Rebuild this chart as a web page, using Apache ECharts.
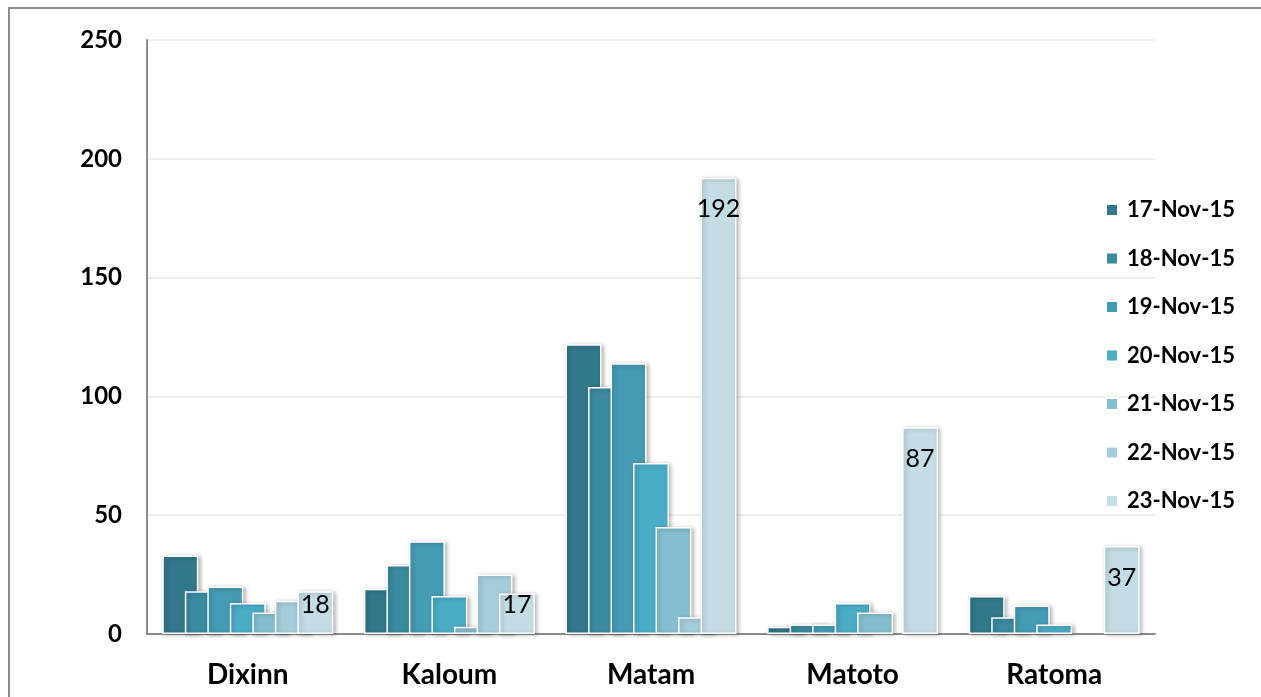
<!DOCTYPE html>
<html>
<head>
<meta charset="utf-8">
<script src="https://cdn.jsdelivr.net/npm/echarts@6/dist/echarts.min.js"></script>
<style>
html,body{margin:0;padding:0;background:#fff;}
#frame{position:absolute;left:8px;top:7px;width:1265px;height:700px;border-left:2px solid #8c8c8c;border-top:2px solid #8c8c8c;box-sizing:border-box;pointer-events:none;z-index:2;}
#chart{position:absolute;left:0;top:0;width:1261px;height:697px;}
</style>
</head>
<body>
<div id="chart"></div>
<div id="frame"></div>
<script>
const categories = ['Dixinn', 'Kaloum', 'Matam', 'Matoto', 'Ratoma'];
const seriesNames = ['17-Nov-15', '18-Nov-15', '19-Nov-15', '20-Nov-15', '21-Nov-15', '22-Nov-15', '23-Nov-15'];
const nov17 = [33, 19, 122, 3, 16];
const nov18 = [18, 29, 104, 4, 7];
const nov19 = [20, 39, 114, 4, 12];
const nov20 = [13, 16, 72, 13, 4];
const nov21 = [9, 3, 45, 9, 0];
const nov22 = [14, 25, 7, 0, 0];
const nov23 = [18, 17, 192, 87, 37];
const yTicks = [0, 50, 100, 150, 200, 250];

const colors = ['#31788A', '#3A8AA0', '#449BB4', '#4BACC6', '#84BFD0', '#A5CDDC', '#C3DDE7'];
const allValues = [nov17, nov18, nov19, nov20, nov21, nov22, nov23];

const FONT = 'Lato, "Liberation Sans", sans-serif';

const series = allValues.map((vals, i) => {
  const isLast = i === allValues.length - 1;
  return {
    name: seriesNames[i],
    type: 'bar',
    barWidth: 36,
    barGap: '-37.5%',
    data: vals.map(v => {
      const item = { value: v };
      if (v === 0) {
        item.itemStyle = { borderWidth: 0, shadowBlur: 0, shadowOffsetX: 0, shadowOffsetY: 0, opacity: 0 };
      }
      if (isLast) {
        item.label = v < 30
          ? { show: true, position: 'insideBottom', distance: 17 }
          : { show: true, position: 'insideTop', distance: 19 };
      }
      return item;
    }),
    itemStyle: {
      color: colors[i],
      borderColor: '#ffffff',
      borderWidth: 1.5,
      shadowColor: 'rgba(0,0,0,0.28)',
      shadowBlur: 4,
      shadowOffsetX: 2,
      shadowOffsetY: 1
    },
    label: {
      show: false,
      color: '#000',
      fontFamily: FONT,
      fontSize: 25,
      fontWeight: 'normal'
    },
    emphasis: { disabled: true }
  };
});

const chart = echarts.init(document.getElementById('chart'), null, { renderer: 'canvas' });
chart.setOption({
  animation: false,
  backgroundColor: '#fff',
  grid: { left: 147, right: 106, top: 40, bottom: 63, containLabel: false },
  legend: {
    orient: 'vertical',
    left: 1100,
    top: 193,
    itemWidth: 12,
    itemHeight: 12,
    itemGap: 24.5,
    icon: 'rect',
    data: seriesNames,
    textStyle: {
      fontFamily: FONT,
      fontSize: 22,
      fontWeight: 'bold',
      color: '#000',
      lineHeight: 24,
      padding: [0, 0, 0, 4]
    }
  },
  xAxis: {
    type: 'category',
    data: categories,
    axisTick: { show: false },
    axisLine: { lineStyle: { color: '#8c8c8c', width: 2 } },
    axisLabel: {
      fontFamily: FONT,
      fontSize: 28,
      fontWeight: 'bold',
      color: '#000',
      margin: 27
    }
  },
  yAxis: {
    type: 'value',
    min: yTicks[0],
    max: yTicks[yTicks.length - 1],
    interval: yTicks[1] - yTicks[0],
    axisLine: { show: true, lineStyle: { color: '#8c8c8c', width: 2 } },
    axisTick: { show: false },
    splitLine: { lineStyle: { color: '#EAEAEA', width: 1.5 } },
    axisLabel: {
      fontFamily: FONT,
      fontSize: 24,
      fontWeight: 'bold',
      color: '#000',
      margin: 25
    }
  },
  series: series
});
</script>
</body>
</html>
